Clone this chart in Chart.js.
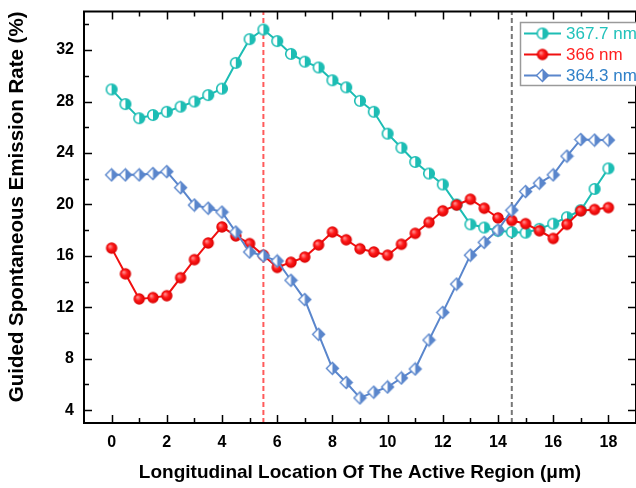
<!DOCTYPE html>
<html>
<head>
<meta charset="utf-8">
<script src="https://cdn.jsdelivr.net/npm/chart.js@4.4.1/dist/chart.umd.min.js"></script>
<style>
  html, body { margin: 0; padding: 0; background: #ffffff; overflow: hidden; }
  #wrap { width: 636px; height: 488px; position: relative; }
</style>
</head>
<body>
<div id="wrap"><canvas id="c" width="636" height="488"></canvas></div>
<script>
// ---------- data ----------
const positions = [0,0.5,1,1.5,2,2.5,3,3.5,4,4.5,5,5.5,6,6.5,7,7.5,8,8.5,9,9.5,10,10.5,11,11.5,12,12.5,13,13.5,14,14.5,15,15.5,16,16.5,17,17.5,18];
const series3677 = [28.94,27.8,26.7,26.95,27.2,27.6,28.0,28.5,29.0,31.0,32.85,33.6,32.7,31.7,31.1,30.65,29.65,29.1,28.05,27.2,25.5,24.4,23.3,22.4,21.55,20.0,18.45,18.2,17.95,17.85,17.8,18.1,18.5,19.0,19.55,21.2,22.8];
const series366 = [16.6,14.6,12.65,12.75,12.9,14.3,15.7,17.0,18.25,17.55,16.95,16.05,15.1,15.5,15.9,16.85,17.85,17.25,16.55,16.3,16.05,16.9,17.75,18.6,19.5,19.95,20.4,19.7,18.95,18.75,18.5,17.95,17.35,18.45,19.5,19.6,19.75];
const series3643 = [22.3,22.3,22.3,22.4,22.55,21.3,19.95,19.7,19.4,17.85,16.3,16.0,15.6,14.1,12.6,9.9,7.25,6.15,4.95,5.4,5.8,6.5,7.2,9.45,11.6,13.8,16.05,17.05,18.0,19.55,21.0,21.65,22.3,23.75,25.05,25.0,25.0];
const seriesLabels = ['367.7 nm', '366 nm', '364.3 nm'];
const markerLines = [5.5, 14.5];
const xTickValues = [0,2,4,6,8,10,12,14,16,18];
const xMinorValues = [1,3,5,7,9,11,13,15,17];
const yTickValues = [4,8,12,16,20,24,28,32];
const yMinorValues = [6,10,14,18,22,26,30,34];
const xRange = [-1, 19];
const yRange = [3, 35];

// ---------- styles ----------
const cCyan = '#1dbdb4';
const cRed = '#f01010';
const cBlue = '#5a86cc';
const FONT = "'Liberation Sans', Arial, sans-serif";

function toPoints(ys) { return positions.map((x, i) => ({ x: x, y: ys[i] })); }

function makeHalfCircle(color) {
  const s = 14, cv = document.createElement('canvas');
  cv.width = s; cv.height = s;
  const g = cv.getContext('2d');
  const r = 5.3, cx = s / 2, cy = s / 2;
  g.beginPath(); g.arc(cx, cy, r, 0, Math.PI * 2); g.fillStyle = '#ffffff'; g.fill();
  g.beginPath(); g.moveTo(cx, cy - r); g.arc(cx, cy, r, -Math.PI / 2, Math.PI / 2); g.closePath();
  g.fillStyle = color; g.fill();
  g.beginPath(); g.arc(cx, cy, r, 0, Math.PI * 2); g.lineWidth = 1.6; g.strokeStyle = color; g.stroke();
  return cv;
}
function makeBall(color) {
  const s = 14, cv = document.createElement('canvas');
  cv.width = s; cv.height = s;
  const g = cv.getContext('2d');
  const r = 5.7, cx = s / 2, cy = s / 2;
  const grd = g.createRadialGradient(cx - 1.8, cy - 1.8, 0.5, cx, cy, r);
  grd.addColorStop(0, '#ff8a8a');
  grd.addColorStop(0.45, '#ff1a1a');
  grd.addColorStop(1, '#d80000');
  g.beginPath(); g.arc(cx, cy, r, 0, Math.PI * 2); g.fillStyle = grd; g.fill();
  return cv;
}
function makeHalfDiamond(color) {
  const w = 15, h = 15, cv = document.createElement('canvas');
  cv.width = w; cv.height = h;
  const g = cv.getContext('2d');
  const cx = w / 2, cy = h / 2, a = 6, b = 6;
  g.beginPath(); g.moveTo(cx, cy - b); g.lineTo(cx + a, cy); g.lineTo(cx, cy + b); g.lineTo(cx - a, cy); g.closePath();
  g.fillStyle = '#ffffff'; g.fill();
  g.beginPath(); g.moveTo(cx, cy - b); g.lineTo(cx + a, cy); g.lineTo(cx, cy + b); g.closePath();
  g.fillStyle = color; g.fill();
  g.beginPath(); g.moveTo(cx, cy - b); g.lineTo(cx + a, cy); g.lineTo(cx, cy + b); g.lineTo(cx - a, cy); g.closePath();
  g.lineWidth = 1.4; g.strokeStyle = color; g.stroke();
  return cv;
}
const mkCyan = makeHalfCircle(cCyan);
const mkRed = makeBall(cRed);
const mkBlue = makeHalfDiamond(cBlue);
const seriesColors = [cCyan, cRed, cBlue];
const seriesTextColors = ['#22c2bb', '#ff1f1f', '#2f80c8'];
const seriesMarkers = [mkCyan, mkRed, mkBlue];

// ---------- plugins ----------
const framePlugin = {
  id: 'frame',
  afterDatasetsDraw(chart) {
    const { ctx, chartArea: a, scales: { x, y } } = chart;
    ctx.save();
    ctx.strokeStyle = '#000';
    ctx.lineWidth = 1.5;
    const majL = 8, minL = 5;
    ctx.beginPath();
    xTickValues.forEach(v => { const px = Math.round(x.getPixelForValue(v)) + 0.5;
      ctx.moveTo(px, a.bottom); ctx.lineTo(px, a.bottom - majL);
      ctx.moveTo(px, a.top); ctx.lineTo(px, a.top + majL); });
    xMinorValues.forEach(v => { const px = Math.round(x.getPixelForValue(v)) + 0.5;
      ctx.moveTo(px, a.bottom); ctx.lineTo(px, a.bottom - minL);
      ctx.moveTo(px, a.top); ctx.lineTo(px, a.top + minL); });
    yTickValues.forEach(v => { const py = Math.round(y.getPixelForValue(v)) + 0.5;
      ctx.moveTo(a.left, py); ctx.lineTo(a.left + majL, py);
      ctx.moveTo(a.right, py); ctx.lineTo(a.right - majL, py); });
    yMinorValues.forEach(v => { const py = Math.round(y.getPixelForValue(v)) + 0.5;
      ctx.moveTo(a.left, py); ctx.lineTo(a.left + minL, py);
      ctx.moveTo(a.right, py); ctx.lineTo(a.right - minL, py); });
    ctx.stroke();
    ctx.lineWidth = 2;
    ctx.strokeRect(a.left, a.top, a.right - a.left, a.bottom - a.top);
    ctx.restore();
  }
};

const legendPlugin = {
  id: 'boxLegend',
  afterDraw(chart) {
    const { ctx } = chart;
    ctx.save();
    const bx = 520.5, by = 22.5, bw = 130, bh = 63;
    ctx.fillStyle = '#ffffff';
    ctx.fillRect(bx, by, bw, bh);
    ctx.strokeStyle = '#9a9a9a';
    ctx.lineWidth = 1.5;
    ctx.strokeRect(bx, by, bw, bh);
    const rows = [33.5, 54.5, 75.5];
    ctx.font = "17px " + FONT;
    ctx.textBaseline = 'middle';
    ctx.textAlign = 'left';
    seriesLabels.forEach((lab, i) => {
      const ry = rows[i];
      ctx.strokeStyle = seriesColors[i];
      ctx.lineWidth = 2;
      ctx.beginPath(); ctx.moveTo(524, ry); ctx.lineTo(561, ry); ctx.stroke();
      const m = seriesMarkers[i];
      ctx.drawImage(m, 542.5 - m.width / 2, ry - m.height / 2);
      ctx.fillStyle = seriesTextColors[i];
      ctx.fillText(lab, 566, ry + 1);
    });
    ctx.restore();
  }
};

// ---------- chart ----------
const datasets = [
  { label: seriesLabels[0], data: toPoints(series3677), borderColor: cCyan, borderWidth: 2, pointStyle: mkCyan, pointRadius: 6, order: 3 },
  { label: seriesLabels[1], data: toPoints(series366), borderColor: cRed, borderWidth: 2, pointStyle: mkRed, pointRadius: 6, order: 2 },
  { label: seriesLabels[2], data: toPoints(series3643), borderColor: cBlue, borderWidth: 2, pointStyle: mkBlue, pointRadius: 6, order: 1 },
  { label: 'marker1', data: [{ x: markerLines[0], y: yRange[0] }, { x: markerLines[0], y: yRange[1] }], borderColor: '#ff5a5a', borderWidth: 2, borderDash: [5, 3], pointRadius: 0, order: 10 },
  { label: 'marker2', data: [{ x: markerLines[1], y: yRange[0] }, { x: markerLines[1], y: yRange[1] }], borderColor: '#777777', borderWidth: 2, borderDash: [5, 3], pointRadius: 0, order: 10 }
];

new Chart(document.getElementById('c'), {
  type: 'line',
  data: { datasets },
  plugins: [framePlugin, legendPlugin],
  options: {
    responsive: false,
    animation: false,
    layout: { autoPadding: false, padding: { top: 11.5, right: 0, left: 0, bottom: 0 } },
    plugins: { legend: { display: false }, tooltip: { enabled: false } },
    elements: { line: { tension: 0 } },
    scales: {
      x: {
        type: 'linear', min: xRange[0], max: xRange[1],
        grid: { display: false, drawTicks: false }, border: { display: false },
        afterBuildTicks: s => { s.ticks = xTickValues.map(v => ({ value: v })); },
        afterFit: s => { s.height = 65; s.paddingLeft = 0; s.paddingRight = 0; },
        ticks: { color: '#000', font: { family: FONT, size: 16, weight: 'bold' }, padding: 10, maxRotation: 0, autoSkip: false },
        title: { display: true, text: 'Longitudinal Location Of The Active Region (μm)', color: '#000', font: { family: FONT, size: 19, weight: 'bold' }, padding: { bottom: 4 } }
      },
      y: {
        type: 'linear', min: yRange[0], max: yRange[1],
        grid: { display: false, drawTicks: false }, border: { display: false },
        afterBuildTicks: s => { s.ticks = yTickValues.map(v => ({ value: v })); },
        afterFit: s => { s.width = 84; s.paddingTop = 0; s.paddingBottom = 0; },
        ticks: { color: '#000', font: { family: FONT, size: 16, weight: 'bold' }, padding: 10, autoSkip: false },
        title: { display: true, text: 'Guided Spontaneous Emission Rate (%)', color: '#000', align: 'end', font: { family: FONT, size: 20.5, weight: 'bold' }, padding: { top: 5 } }
      }
    }
  }
});
</script>
</body>
</html>
